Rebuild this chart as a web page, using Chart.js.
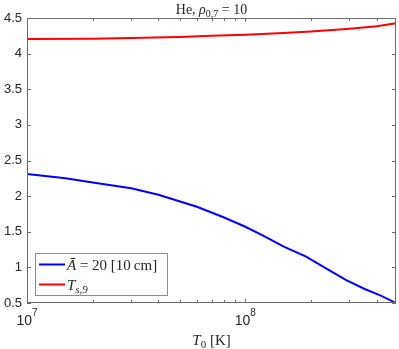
<!DOCTYPE html>
<html>
<head>
<meta charset="utf-8">
<script src="https://cdn.jsdelivr.net/npm/chart.js@4/dist/chart.umd.min.js"></script>
<style>
  html, body { margin: 0; padding: 0; background: #fff; }
  #wrap { width: 399px; height: 349px; }
</style>
</head>
<body>
<div id="wrap"><canvas id="chart"></canvas></div>
<script>
// --- data ---
const tempBlue = [1e7, 1.5e7, 2e7, 3e7, 4e7, 6e7, 8e7, 1e8, 1.2e8, 1.5e8, 1.9e8, 2.3e8, 2.9e8, 3.5e8, 4.2e8, 4.9e8];
const aBar = [2.31, 2.25, 2.19, 2.11, 2.02, 1.85, 1.70, 1.57, 1.45, 1.29, 1.15, 1.00, 0.82, 0.70, 0.60, 0.50];

const tempRed = [1e7, 2e7, 3e7, 5e7, 7e7, 1e8, 1.5e8, 2e8, 2.5e8, 3e8, 4e8, 4.9e8];
const tS9 = [4.205, 4.21, 4.22, 4.235, 4.25, 4.265, 4.29, 4.31, 4.33, 4.35, 4.385, 4.425];

const xTicks = [1e7, 2e7, 3e7, 4e7, 5e7, 6e7, 7e7, 8e7, 9e7, 1e8, 2e8, 3e8, 4e8];
const xLabelled = { 1e7: '7', 1e8: '8' };
const yMin = 0.5, yMax = 4.5, yStep = 0.5;
const xMin = 1e7, xMax = 4.9e8;

const axisColor = '#6b6b6b';
const serif = '"Liberation Serif", "DejaVu Serif", serif';
const sans = '"Liberation Sans", Arial, sans-serif';

// draw a run of text pieces: [text, italic, sizeFactor, yShift]
function drawPieces(ctx, pieces, x, y, size, align) {
  let total = 0;
  pieces.forEach(p => {
    ctx.font = (p[1] ? 'italic ' : '') + Math.round(size * (p[2] || 1)) + 'px ' + serif;
    total += ctx.measureText(p[0]).width;
  });
  let cx = align === 'center' ? x - total / 2 : x;
  pieces.forEach(p => {
    ctx.font = (p[1] ? 'italic ' : '') + Math.round(size * (p[2] || 1)) + 'px ' + serif;
    ctx.fillText(p[0], cx, y + (p[3] || 0));
    cx += ctx.measureText(p[0]).width;
  });
}

const decorations = {
  id: 'decorations',
  afterDraw(chart) {
    const ctx = chart.ctx;
    const a = chart.chartArea;
    const xs = chart.scales.x, ys = chart.scales.y;
    ctx.save();

    // box
    ctx.strokeStyle = axisColor;
    ctx.lineWidth = 1;
    ctx.strokeRect(a.left + 0.5, a.top + 0.5, a.right - a.left - 1, a.bottom - a.top - 1);

    // inward ticks, all four sides
    ctx.beginPath();
    xTicks.forEach(v => {
      const px = Math.round(xs.getPixelForValue(v)) + 0.5;
      const len = xLabelled[v] ? 4 : 3;
      ctx.moveTo(px, a.bottom); ctx.lineTo(px, a.bottom - len);
      ctx.moveTo(px, a.top); ctx.lineTo(px, a.top + len);
    });
    for (let v = yMin; v <= yMax + 1e-9; v += yStep) {
      const py = Math.round(ys.getPixelForValue(v)) + 0.5;
      ctx.moveTo(a.left, py); ctx.lineTo(a.left + 4, py);
      ctx.moveTo(a.right, py); ctx.lineTo(a.right - 4, py);
    }
    ctx.stroke();

    // x tick labels 10^n
    ctx.fillStyle = '#262626';
    ctx.textBaseline = 'alphabetic';
    Object.keys(xLabelled).forEach(k => {
      const px = xs.getPixelForValue(Number(k));
      ctx.font = '14px ' + sans;
      const w = ctx.measureText('10').width;
      ctx.font = '10px ' + sans;
      const we = ctx.measureText(xLabelled[k]).width;
      const left = px - (w + we) / 2;
      ctx.font = '14px ' + sans;
      ctx.fillText('10', left, a.bottom + 22);
      ctx.font = '10px ' + sans;
      ctx.fillText(xLabelled[k], left + w, a.bottom + 13);
    });

    // title
    ctx.fillStyle = '#262626';
    drawPieces(ctx, [['He, ', false], ['\u03c1', true], ['0,7', false, 0.72, 3], [' = 10', false]],
      (a.left + a.right) / 2, 14, 14, 'center');

    // x axis label
    drawPieces(ctx, [['T', true], ['0', false, 0.72, 3], [' [K]', false]],
      (a.left + a.right) / 2, 345, 15, 'center');

    // legend
    const lx = 35, ly = 253, lw = 132, lh = 42;
    ctx.fillStyle = '#fff';
    ctx.fillRect(lx, ly, lw, lh);
    ctx.strokeStyle = '#8c8c8c';
    ctx.lineWidth = 1;
    ctx.strokeRect(lx + 0.5, ly + 0.5, lw, lh);
    const rows = [
      { ds: chart.data.datasets[0], y: ly + 11.5,
        pieces: [['\u0100', true], [' = 20 [10\u2009cm]', false]] },
      { ds: chart.data.datasets[1], y: ly + 31.5,
        pieces: [['T', true], ['s,9', true, 0.72, 3]] }
    ];
    rows.forEach(r => {
      ctx.strokeStyle = r.ds.borderColor;
      ctx.lineWidth = 2;
      ctx.beginPath();
      ctx.moveTo(lx + 4, r.y); ctx.lineTo(lx + 30, r.y);
      ctx.stroke();
      ctx.fillStyle = '#262626';
      drawPieces(ctx, r.pieces, lx + 32, r.y + 5, 15, 'left');
    });

    ctx.restore();
  }
};

new Chart(document.getElementById('chart'), {
  type: 'line',
  data: {
    datasets: [
      {
        label: 'A = 20 [10 cm]',
        data: tempBlue.map((t, i) => ({ x: t, y: aBar[i] })),
        borderColor: '#0000ff',
        borderWidth: 2,
        pointRadius: 0,
        tension: 0
      },
      {
        label: 'T_s,9',
        data: tempRed.map((t, i) => ({ x: t, y: tS9[i] })),
        borderColor: '#ff0000',
        borderWidth: 2,
        pointRadius: 0,
        tension: 0
      }
    ]
  },
  options: {
    responsive: true,
    maintainAspectRatio: false,
    animation: false,
    layout: { padding: { top: 18, right: 3, bottom: 0, left: 0 } },
    plugins: {
      legend: { display: false },
      title: { display: false },
      tooltip: { enabled: false }
    },
    scales: {
      x: {
        type: 'logarithmic',
        min: xMin,
        max: xMax,
        grid: { display: false },
        border: { display: false },
        ticks: { display: false },
        afterBuildTicks: s => { s.ticks = xTicks.map(v => ({ value: v })); },
        afterFit: s => { s.height = 46; }
      },
      y: {
        min: yMin,
        max: yMax,
        grid: { display: false, drawTicks: false },
        border: { display: false },
        ticks: {
          stepSize: yStep,
          padding: 5,
          color: '#262626',
          font: { family: sans, size: 13 },
          callback: v => String(Math.round(v * 10) / 10)
        },
        afterFit: s => { s.width = 27; }
      }
    }
  },
  plugins: [decorations]
});
</script>
</body>
</html>
